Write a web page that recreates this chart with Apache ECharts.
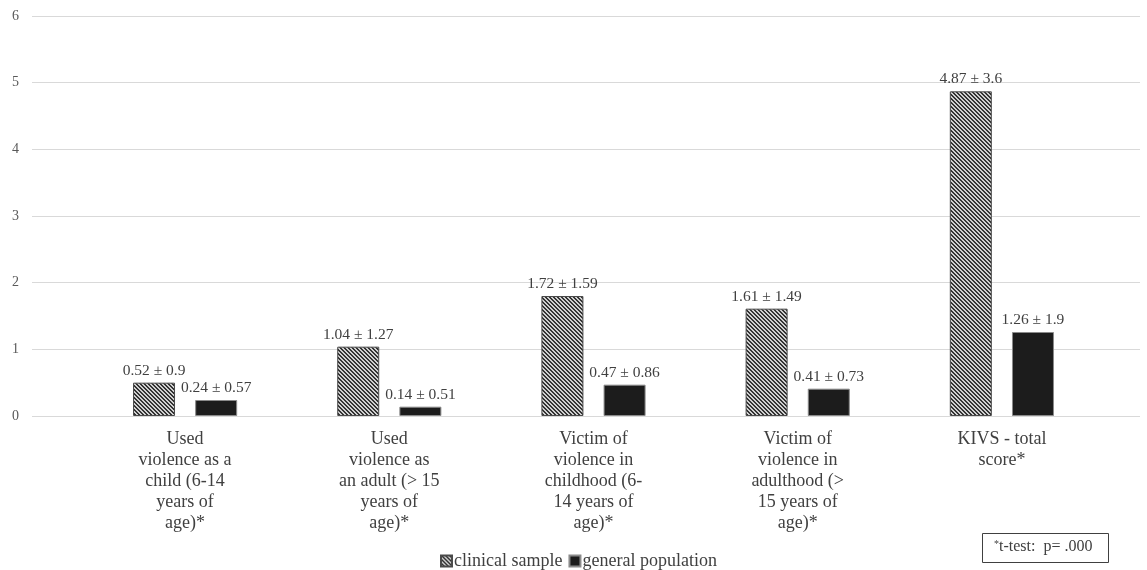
<!DOCTYPE html>
<html>
<head>
<meta charset="utf-8">
<script src="https://cdn.jsdelivr.net/npm/echarts@6/dist/echarts.min.js"></script>
<style>
  html, body { margin: 0; padding: 0; background: #fff; }
  #chartBar { width: 1147px; height: 570px; }
</style>
</head>
<body>
<div id="chartBar"></div>
<script>
// data
const categories = [
  'Used\nviolence as a\nchild (6-14\nyears of\nage)*',
  'Used\nviolence as\nan adult (> 15\nyears of\nage)*',
  'Victim of\nviolence in\nchildhood (6-\n14 years of\nage)*',
  'Victim of\nviolence in\nadulthood (>\n15 years of\nage)*',
  'KIVS - total\nscore*'
];
const clinicalValues = [0.5, 1.04, 1.8, 1.61, 4.87];
const generalValues = [0.24, 0.14, 0.47, 0.41, 1.26];
const clinicalLabels = ['0.52 ± 0.9', '1.04 ± 1.27', '1.72 ± 1.59', '1.61 ± 1.49', '4.87 ± 3.6'];
const generalLabels = ['0.24 ± 0.57', '0.14 ± 0.51', '0.47 ± 0.86', '0.41 ± 0.73', '1.26 ± 1.9'];
const yTicks = [0, 1, 2, 3, 4, 5, 6];

const serif = '"Liberation Serif", "DejaVu Serif", serif';

// diagonal hatch used for the clinical bars
function makeHatch() {
  const c = document.createElement('canvas');
  c.width = 4; c.height = 4;
  const ctx = c.getContext('2d');
  ctx.fillStyle = '#cfcfcf';
  ctx.fillRect(0, 0, 4, 4);
  ctx.fillStyle = '#333';
  for (let i = 0; i < 4; i++) {
    ctx.fillRect(i, i, 1, 1);
    ctx.fillRect((i + 1) % 4, i, 1, 1);
  }
  return c;
}
const hatch = { image: makeHatch(), repeat: 'repeat' };

const chart = echarts.init(document.getElementById('chartBar'));
chart.setOption({
  animation: false,
  textStyle: { fontFamily: serif },
  grid: [
    { left: 32, right: 7, top: 16, bottom: 154 },
    { left: 83, right: 43, top: 16, bottom: 154 }
  ],
  legend: {
    bottom: 0,
    left: 440,
    padding: [0, 0, 0, 0],
    itemWidth: 11,
    itemHeight: 11,
    itemGap: 6,
    icon: 'rect',
    textStyle: { fontFamily: serif, fontSize: 18, color: '#404040', padding: [0, 0, 0, -3] },
    data: ['clinical sample', 'general population']
  },
  xAxis: [
    { gridIndex: 0, type: 'value', show: false, min: 0, max: 1 },
    {
      gridIndex: 1,
      type: 'category',
      data: categories,
      axisLine: { lineStyle: { color: '#d9d9d9' } },
      axisTick: { show: false },
      axisLabel: {
        interval: 0,
        margin: 13,
        fontFamily: serif,
        fontSize: 18,
        lineHeight: 21,
        color: '#404040',
        align: 'center'
      }
    }
  ],
  yAxis: [
    {
      gridIndex: 0,
      type: 'value',
      min: 0,
      max: 6,
      interval: 1,
      axisLine: { show: false },
      axisTick: { show: false },
      splitLine: { lineStyle: { color: '#d9d9d9', width: 1 } },
      axisLabel: {
        margin: 13,
        fontFamily: serif,
        fontSize: 14,
        color: '#595959',
        formatter: v => yTicks.includes(v) ? String(v) : ''
      }
    },
    {
      gridIndex: 1,
      type: 'value',
      min: 0,
      max: 6,
      interval: 1,
      show: false
    }
  ],
  series: [
    {
      name: 'clinical sample',
      type: 'bar',
      xAxisIndex: 1,
      yAxisIndex: 1,
      barWidth: 42,
      barGap: '48%',
      data: clinicalValues,
      itemStyle: { color: hatch, borderColor: '#4a4a4a', borderWidth: 1 },
      label: {
        show: true,
        position: 'top',
        distance: 4,
        fontFamily: serif,
        fontSize: 15.5,
        color: '#404040',
        formatter: p => clinicalLabels[p.dataIndex]
      }
    },
    {
      name: 'general population',
      type: 'bar',
      xAxisIndex: 1,
      yAxisIndex: 1,
      barWidth: 42,
      data: generalValues,
      itemStyle: { color: '#1c1c1c', borderColor: '#8a8a8a', borderWidth: 1 },
      label: {
        show: true,
        position: 'top',
        distance: 4,
        fontFamily: serif,
        fontSize: 15.5,
        color: '#404040',
        formatter: p => generalLabels[p.dataIndex]
      }
    }
  ],
  graphic: [
    {
      type: 'rect',
      left: 982,
      top: 533,
      shape: { width: 126, height: 29 },
      style: { fill: '#fff', stroke: '#404040', lineWidth: 1 }
    },
    {
      type: 'text',
      left: 994,
      top: 539,
      style: {
        text: '{s|*}t-test:  p= .000',
        font: '16px ' + serif,
        fill: '#404040',
        rich: {
          s: { fontSize: 10, verticalAlign: 'top', padding: [0, 0, 6, 0], fontFamily: serif, fill: '#404040' }
        }
      }
    }
  ]
});
</script>
</body>
</html>
